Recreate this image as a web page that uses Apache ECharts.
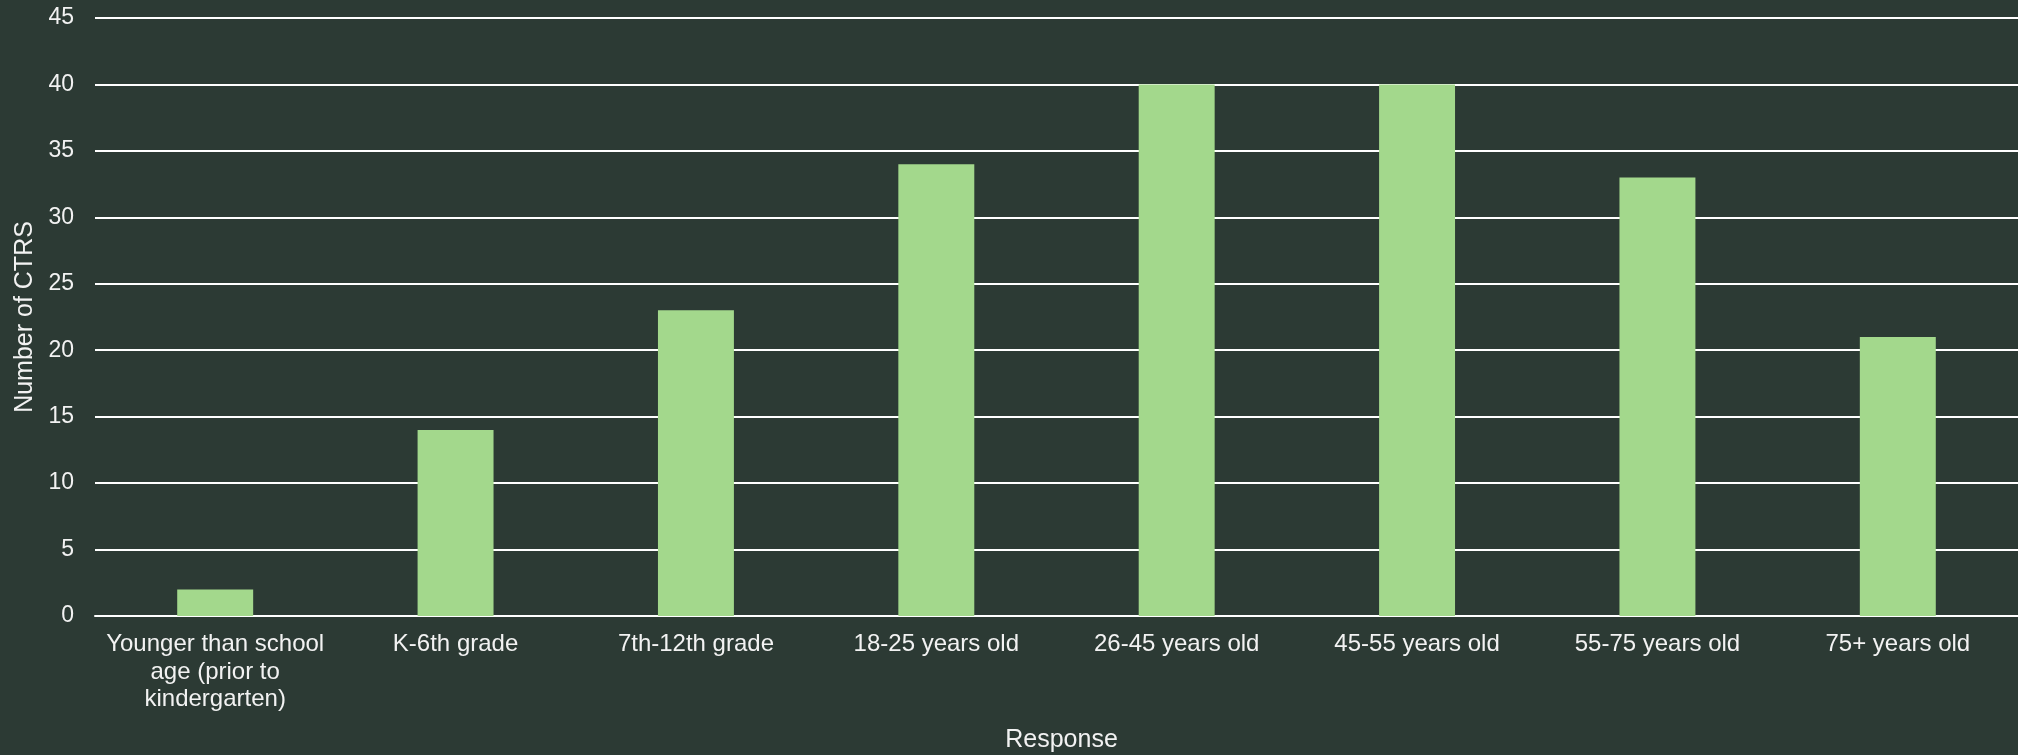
<!DOCTYPE html>
<html>
<head>
<meta charset="utf-8">
<script src="https://cdn.jsdelivr.net/npm/echarts@6/dist/echarts.min.js"></script>
<style>
html,body{margin:0;padding:0;background:#2c3a34;}
#chart{width:2018px;height:755px;}
</style>
</head>
<body>
<div id="chart"></div>
<script>
const categories = [
  "Younger than school\nage (prior to\nkindergarten)",
  "K-6th grade",
  "7th-12th grade",
  "18-25 years old",
  "26-45 years old",
  "45-55 years old",
  "55-75 years old",
  "75+ years old"
];
const counts = [2, 14, 23, 34, 40, 40, 33, 21];
const yTicks = { min: 0, max: 45, interval: 5 };

const chart = echarts.init(document.getElementById('chart'));
const font = 'Liberation Sans, Arial, sans-serif';
chart.setOption({
  backgroundColor: '#2c3a34',
  animation: false,
  grid: { left: 95, right: 0, top: 18, bottom: 139, containLabel: false, outerBoundsMode: 'none' },
  xAxis: {
    type: 'category',
    data: categories,
    name: 'Response',
    nameLocation: 'middle',
    nameGap: 112,
    nameTextStyle: { color: '#f2f2f2', fontSize: 25, fontFamily: font, padding: [0, 0, 0, 10] },
    axisLine: { show: true, lineStyle: { color: '#ffffff', width: 2 } },
    axisTick: { show: false },
    axisLabel: { color: '#f2f2f2', fontSize: 24, fontFamily: font, margin: 15, lineHeight: 27.5, interval: 0 }
  },
  yAxis: {
    type: 'value',
    min: yTicks.min, max: yTicks.max, interval: yTicks.interval,
    name: 'Number of CTRS',
    nameLocation: 'middle',
    nameGap: 55,
    nameTextStyle: { color: '#f2f2f2', fontSize: 25, fontFamily: font },
    axisLine: { show: false },
    axisTick: { show: false },
    axisLabel: { color: '#f2f2f2', fontSize: 23, fontFamily: font, margin: 21 },
    splitLine: { show: true, lineStyle: { color: '#ffffff', width: 2 } }
  },
  series: [{
    type: 'bar',
    data: counts,
    barWidth: '31.6%',
    itemStyle: { color: '#a3d88c' }
  }]
});
</script>
</body>
</html>
